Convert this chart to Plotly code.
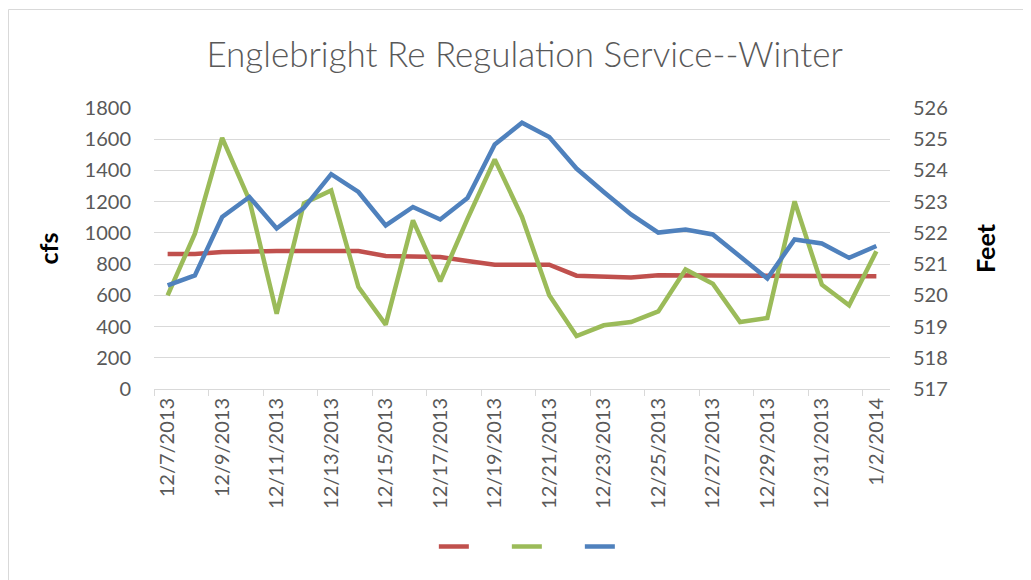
import plotly.graph_objects as go

dates = ["12/7/2013", "12/8/2013", "12/9/2013", "12/10/2013", "12/11/2013", "12/12/2013",
         "12/13/2013", "12/14/2013", "12/15/2013", "12/16/2013", "12/17/2013", "12/18/2013",
         "12/19/2013", "12/20/2013", "12/21/2013", "12/22/2013", "12/23/2013", "12/24/2013",
         "12/25/2013", "12/26/2013", "12/27/2013", "12/28/2013", "12/29/2013", "12/30/2013",
         "12/31/2013", "1/1/2014", "1/2/2014"]

# Outflow (cfs) - red
outflow_cfs = [865, 865, 877, 884, 884, 884, 884, 884, 852, 850, 845, 820, 796, 796, 796,
               726, 722, 715, 728, 728, 722, 722, 722, 722, 722, 722, 722]
# Inflow (cfs) - green
inflow_cfs = [600, 995, 1608, 1210, 483, 1190, 1272, 653, 412, 1080, 690, 1090, 1471, 1102,
              600, 339, 408, 429, 497, 766, 675, 429, 455, 1202, 668, 536, 882]
# Reservoir elevation (feet) - blue
elevation_ft = [520.32, 520.64, 522.51, 523.15, 522.14, 522.80, 523.88, 523.31, 522.24, 522.83,
                522.43, 523.12, 524.83, 525.53, 525.07, 524.06, 523.31, 522.59, 522.01, 522.11,
                521.95, 521.23, 520.54, 521.79, 521.66, 521.20, 521.58]

cfs_ticks = [0, 200, 400, 600, 800, 1000, 1200, 1400, 1600, 1800]
feet_ticks = [517, 518, 519, 520, 521, 522, 523, 524, 525, 526]

FONT = "Lato"
GRAY = "#595959"

fig = go.Figure()
fig.add_trace(go.Scatter(x=dates, y=outflow_cfs, mode="lines", name=" ",
                         line=dict(color="#C0504D", width=4.5), yaxis="y"))
fig.add_trace(go.Scatter(x=dates, y=inflow_cfs, mode="lines", name=" ",
                         line=dict(color="#9BBB59", width=4.5), yaxis="y"))
fig.add_trace(go.Scatter(x=dates, y=elevation_ft, mode="lines", name=" ",
                         line=dict(color="#4F81BD", width=4.5), yaxis="y2"))

fig.update_layout(
    width=1023, height=572,
    paper_bgcolor="white", plot_bgcolor="white",
    margin=dict(l=146, r=141, t=100, b=191, autoexpand=False),
    title=dict(text="Englebright Re Regulation Service--Winter",
               font=dict(family=FONT, size=35, color=GRAY, weight=300),
               x=0.505, xanchor="center", y=0.918, yanchor="middle"),
    font=dict(family=FONT, color=GRAY),
    showlegend=True,
    legend=dict(orientation="h", x=0.529, xanchor="center", y=-0.562, yanchor="middle",
                entrywidth=28, entrywidthmode="pixels", font=dict(size=14),
                bgcolor="rgba(0,0,0,0)"),
    xaxis=dict(type="category", range=[-0.5, len(dates) - 0.5],
               tickmode="linear", tick0=0, dtick=2,
               tickson="boundaries", ticks="outside", ticklen=6, tickcolor="#D9D9D9",
               showline=True, linecolor="#D9D9D9", linewidth=1,
               showgrid=False, tickangle=-90,
               tickfont=dict(family=FONT, size=20, color=GRAY), automargin=False),
    yaxis=dict(range=[0, 1800], tickvals=cfs_ticks, showgrid=True, gridcolor="#D9D9D9",
               gridwidth=1, zeroline=False, showline=False, ticks="",
               ticklabelstandoff=22,
               tickfont=dict(family=FONT, size=20, color=GRAY),
               title=dict(text="<b>cfs</b>", font=dict(family=FONT, size=25, color="black"),
                          standoff=18),
               automargin=False),
    yaxis2=dict(range=[517, 526], tickvals=feet_ticks, overlaying="y", side="right",
                showgrid=False, zeroline=False, showline=False, ticks="",
                ticklabelstandoff=22,
                tickfont=dict(family=FONT, size=20, color=GRAY),
                title=dict(text="<b>Feet</b>", font=dict(family=FONT, size=25, color="black"),
                           standoff=30),
                automargin=False),
    shapes=[dict(type="rect", xref="paper", yref="paper",
                 x0=-0.1977, x1=1.5, y0=-1.0, y1=1.3505,
                 line=dict(color="#D9D9D9", width=1), fillcolor="rgba(0,0,0,0)", layer="below")],
)

fig.write_html("out.html")
